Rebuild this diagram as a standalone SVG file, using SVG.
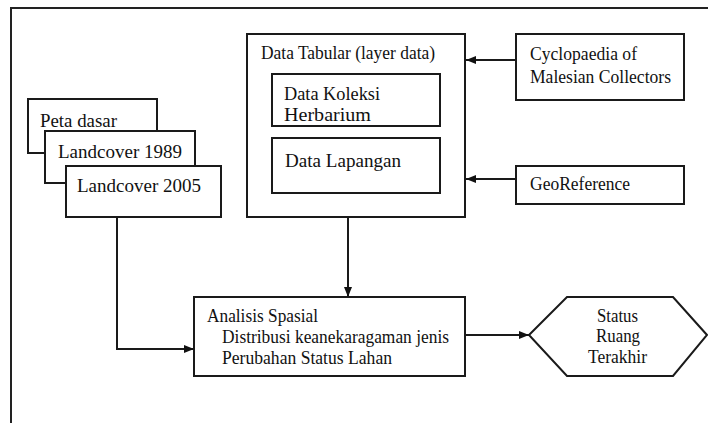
<svg xmlns="http://www.w3.org/2000/svg" width="708" height="423" viewBox="0 0 708 423">
<style>
.box{fill:#fff;stroke:#1a1a1a;stroke-width:2}
.frame{fill:#fff;stroke:#222;stroke-width:2}
.t{font-family:"Liberation Serif","Times New Roman",serif;font-size:19px;fill:#111}
.c{stroke:#1a1a1a;stroke-width:2;fill:none;marker-end:url(#ah)}
</style>
<defs>
<marker id="ah" viewBox="0 0 10 10" refX="10" refY="5" markerWidth="10" markerHeight="10" markerUnits="userSpaceOnUse" orient="auto">
<path d="M0,1 L10,5 L0,9 z" fill="#111"/>
</marker>
</defs>
<rect class="frame" x="11" y="8" width="720" height="440"/>
<g id="data-tabular">
<rect class="box" x="247" y="34" width="218" height="183"/>
<text class="t" x="261" y="59" textLength="174" lengthAdjust="spacingAndGlyphs">Data Tabular (layer data)</text>
</g>
<g id="data-koleksi">
<rect class="box" x="272" y="74" width="168" height="52"/>
<text class="t" x="284" y="100" textLength="96" lengthAdjust="spacingAndGlyphs">Data Koleksi</text>
<text class="t" x="284" y="121" textLength="87" lengthAdjust="spacingAndGlyphs">Herbarium</text>
</g>
<g id="data-lapangan">
<rect class="box" x="272" y="138" width="168" height="55"/>
<text class="t" x="285" y="167" textLength="116" lengthAdjust="spacingAndGlyphs">Data Lapangan</text>
</g>
<g id="cyclopaedia">
<rect class="box" x="516" y="34" width="168" height="66"/>
<text class="t" x="530" y="60" textLength="107" lengthAdjust="spacingAndGlyphs">Cyclopaedia of</text>
<text class="t" x="530" y="83" textLength="141" lengthAdjust="spacingAndGlyphs">Malesian Collectors</text>
</g>
<g id="georeference">
<rect class="box" x="516" y="166" width="168" height="38"/>
<text class="t" x="530" y="190" textLength="100" lengthAdjust="spacingAndGlyphs">GeoReference</text>
</g>
<g id="peta-dasar">
<rect class="box" x="28" y="99" width="129" height="54"/>
<text class="t" x="40" y="127" textLength="77" lengthAdjust="spacingAndGlyphs">Peta dasar</text>
</g>
<g id="landcover-1989">
<rect class="box" x="45" y="131" width="150" height="52"/>
<text class="t" x="58" y="158" textLength="124" lengthAdjust="spacingAndGlyphs">Landcover 1989</text>
</g>
<g id="landcover-2005">
<rect class="box" x="66" y="166" width="155" height="51"/>
<text class="t" x="77" y="192" textLength="124" lengthAdjust="spacingAndGlyphs">Landcover 2005</text>
</g>
<g id="analisis">
<rect class="box" x="194" y="297" width="271" height="79"/>
<text class="t" x="207" y="322" textLength="111" lengthAdjust="spacingAndGlyphs">Analisis Spasial</text>
<text class="t" x="222" y="343" textLength="227" lengthAdjust="spacingAndGlyphs">Distribusi keanekaragaman jenis</text>
<text class="t" x="222" y="364" textLength="170" lengthAdjust="spacingAndGlyphs">Perubahan Status Lahan</text>
</g>
<g id="status">
<polygon class="box" points="529,335 567,297 673,297 707,335 673,376 567,376"/>
<text class="t" x="597" y="322" textLength="41" lengthAdjust="spacingAndGlyphs">Status</text>
<text class="t" x="596" y="342" textLength="44" lengthAdjust="spacingAndGlyphs">Ruang</text>
<text class="t" x="588" y="363" textLength="59" lengthAdjust="spacingAndGlyphs">Terakhir</text>
</g>
<g id="connectors">
<path class="c" d="M516,60 H466"/>
<path class="c" d="M516,179 H466"/>
<path class="c" d="M117,217 V349 H194"/>
<path class="c" d="M348,217 V297"/>
<path class="c" d="M465,335 H529"/>
</g>
</svg>
